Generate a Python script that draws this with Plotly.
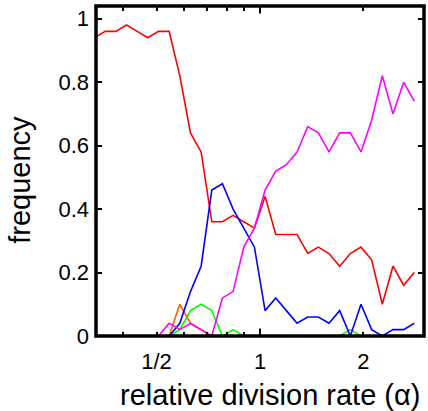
import plotly.graph_objects as go
import math

# relative division rate (alpha) sample points (log-spaced)
alpha = [0.330, 0.3545, 0.3808, 0.4089, 0.4392, 0.4717, 0.5066, 0.5441, 0.5844,
         0.6277, 0.6741, 0.7240, 0.7775, 0.8351, 0.8969, 0.9633, 1.0346, 1.1111,
         1.1934, 1.2816, 1.3765, 1.4784, 1.5878, 1.7053, 1.8315, 1.9671, 2.1126,
         2.2690, 2.4370, 2.6173, 2.8111]

red = [0.94, 0.96, 0.96, 0.98, 0.96, 0.94, 0.96, 0.96, 0.82, 0.64, 0.58, 0.36,
       0.36, 0.38, 0.36, 0.34, 0.44, 0.32, 0.32, 0.32, 0.26, 0.28, 0.26, 0.22,
       0.26, 0.28, 0.24, 0.10, 0.22, 0.16, 0.20]
blue = [0, 0, 0, 0, 0, 0, 0, 0, 0.04, 0.14, 0.22, 0.46, 0.48, 0.40, 0.34, 0.28,
        0.08, 0.12, 0.08, 0.04, 0.06, 0.06, 0.04, 0.08, 0, 0.10, 0.02, 0, 0.02,
        0.02, 0.04]
magenta = [0, 0, 0, 0, 0, 0, 0, 0.04, 0.02, 0.04, 0.02, 0, 0.12, 0.14, 0.28,
           0.34, 0.46, 0.52, 0.54, 0.58, 0.66, 0.64, 0.58, 0.64, 0.64, 0.58,
           0.68, 0.82, 0.70, 0.80, 0.74]
green = [0, 0, 0, 0, 0, 0, 0, 0, 0.02, 0.08, 0.10, 0.08, 0, 0.02, 0, 0, 0, 0,
         0, 0, 0, 0, 0, 0, 0.02, 0, 0, 0, 0, 0, 0]
orange = [0, 0, 0, 0, 0, 0, 0, 0, 0.10, 0.04, 0.02, 0, 0, 0, 0, 0, 0, 0, 0, 0,
          0, 0, 0, 0, 0, 0, 0, 0, 0, 0, 0]

x_tick_vals = [0.5, 1, 2]
x_tick_text = ["1/2", "1", "2"]
x_minor_vals = [0.4, 0.6, 0.7, 0.8, 0.9]
y_tick_vals = [0, 0.2, 0.4, 0.6, 0.8, 1]
y_tick_text = ["0", "0.2", "0.4", "0.6", "0.8", "1"]

fig = go.Figure()
series = [
    (red, "#ff0000"),
    (green, "#00ff00"),
    (orange, "#ff6000"),
    (blue, "#0000ff"),
    (magenta, "#ff00ff"),
]
for vals, col in series:
    fig.add_trace(go.Scatter(x=alpha, y=vals, mode="lines",
                             line=dict(color=col, width=1.6),
                             showlegend=False))

font_family = "Liberation Sans, Arial, sans-serif"
fig.update_layout(
    width=428, height=411,
    margin=dict(l=96, r=4, t=6, b=75),
    paper_bgcolor="white", plot_bgcolor="white",
    font=dict(family=font_family, color="black"),
    showlegend=False,
)
fig.update_xaxes(
    type="log", range=[math.log10(1/3), math.log10(3)],
    tickmode="array", tickvals=x_tick_vals, ticktext=x_tick_text,
    ticks="inside", ticklen=4.5, tickwidth=2, tickcolor="black",
    minor=dict(tickmode="array", tickvals=x_minor_vals, ticks="inside",
               ticklen=4.5, tickwidth=2, tickcolor="black", showgrid=False),
    showline=False, mirror="ticks",
    showgrid=False, zeroline=False,
    tickfont=dict(size=22, family=font_family, color="black"),
    ticklabelstandoff=10,
)
fig.update_yaxes(
    range=[0, 1.04],
    tickmode="array", tickvals=y_tick_vals, ticktext=y_tick_text,
    ticks="inside", ticklen=6, tickwidth=2, tickcolor="black",
    showline=False, mirror="ticks",
    showgrid=False, zeroline=False,
    tickfont=dict(size=22, family=font_family, color="black"),
    ticklabelstandoff=6,
)
# frame drawn above the traces (hides the zero-valued stretches like the original)
fig.add_shape(type="rect", xref="paper", yref="paper", x0=0, x1=1, y0=0, y1=1,
              line=dict(color="black", width=3.5), layer="above")
# longer tick at alpha = 1 (bottom and top)
fig.add_shape(type="line", xref="x", yref="y", x0=1, x1=1,
              ysizemode="pixel", yanchor=0, y0=0, y1=7.5,
              line=dict(color="black", width=2), layer="above")
fig.add_shape(type="line", xref="x", yref="y", x0=1, x1=1,
              ysizemode="pixel", yanchor=1.04, y0=0, y1=-7.5,
              line=dict(color="black", width=2), layer="above")

fig.add_annotation(text="relative division rate (α)", xref="paper", yref="paper",
                   x=0.53, y=-0.18, xanchor="center", yanchor="middle",
                   showarrow=False, font=dict(size=29, family=font_family, color="black"))
fig.add_annotation(text="frequency", xref="paper", yref="paper",
                   x=-0.232, y=0.473, xanchor="center", yanchor="middle",
                   textangle=-90, showarrow=False,
                   font=dict(size=29, family=font_family, color="black"))

fig.write_html("out.html", config={"displayModeBar": False},
               post_script="document.body.style.margin='0';document.body.style.padding='0';")
